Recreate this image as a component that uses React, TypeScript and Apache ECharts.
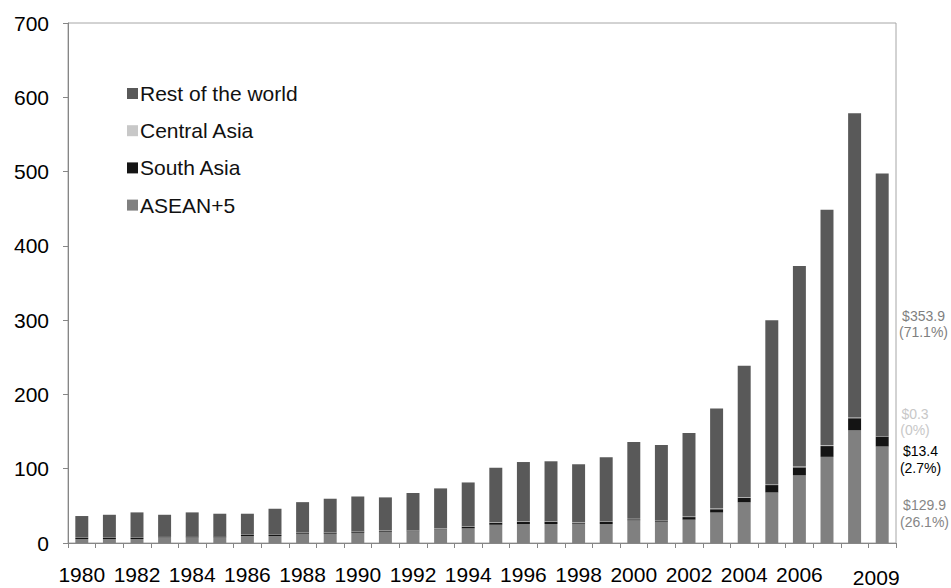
import React, { useEffect, useRef } from "react";
import * as echarts from "echarts";

const years = [
  "1980","1981","1982","1983","1984","1985","1986","1987","1988","1989",
  "1990","1991","1992","1993","1994","1995","1996","1997","1998","1999",
  "2000","2001","2002","2003","2004","2005","2006","2007","2008","2009",
];
const shownYearLabels = [
  "1980","1982","1984","1986","1988","1990","1992","1994","1996","1998",
  "2000","2002","2004","2006","2009",
];
const asean = [
  5.4,5.4,5.4,7.6,7.6,7.6,9.4,9.4,12.5,12.5,
  13.9,15.2,15.7,18.4,19.7,24.6,25.5,25.5,26,25.5,
  30.5,28.7,31.4,41,54.7,68,91.4,116,152,129.9,
];
const southAsia = [
  1.5,1.5,1.5,1.5,1.5,1.5,1.5,1.5,1.5,1.5,
  1.5,1.5,1,1,2,3,3.5,3.5,1.5,3,
  1.5,1.8,3.5,4.5,6.5,10,10.5,14.5,16,13.4,
];
const centralAsia = [
  0.3,0.3,0.3,0.3,0.3,0.3,0.3,0.3,0.3,0.3,
  0.3,0.4,0.5,0.5,0.5,0.6,0.6,0.6,0.6,0.6,
  0.8,0.6,0.8,0.8,0.8,0.8,1,1,1,0.3,
];
const restOfWorld = [
  29.1,30.8,34.0,28.6,31.8,30.0,28.2,34.8,40.7,45.3,
  47.0,44.3,50.0,53.6,59.3,73.1,79.4,80.4,77.9,86.5,
  103.0,100.9,112.3,134.7,176.5,221.2,270.1,317.0,409.4,353.9,
];
const yTicks = { min: 0, max: 700, interval: 100 };

const annotations = [
  { text: "$353.9\n(71.1%)", color: "#7f7f7f", x: 923.5, y: 324 },
  { text: "$0.3\n(0%)", color: "#c8c8c8", x: 915, y: 422 },
  { text: "$13.4\n(2.7%)", color: "#000000", x: 920.5, y: 459.5 },
  { text: "$129.9\n(26.1%)", color: "#868686", x: 924.5, y: 513.5 },
];

const FONT = "'Liberation Sans', Arial, sans-serif";

export default function App() {
  const ref = useRef<HTMLDivElement>(null);
  useEffect(() => {
    if (!ref.current) return;
    const chart = echarts.init(ref.current, null, { renderer: "svg" });
    const barW = "47%";
    const option = {
      animation: false,
      textStyle: { fontFamily: FONT },
      grid: {
        left: 68,
        right: 55,
        top: 23,
        bottom: 44,
        containLabel: false,
        show: true,
        borderColor: "#a6a6a6",
        borderWidth: 1,
        backgroundColor: "transparent",
      },
      legend: {
        orient: "vertical",
        left: 122,
        top: 78,
        itemWidth: 11,
        itemHeight: 11,
        itemGap: 16.2,
        icon: "rect",
        data: ["Rest of the world", "Central Asia", "South Asia", "ASEAN+5"],
        textStyle: { fontSize: 21, color: "#111", fontFamily: FONT, padding: [0, 0, 0, -3] },
      },
      xAxis: {
        type: "category",
        data: years,
        boundaryGap: true,
        axisLine: { show: true, lineStyle: { color: "#868686", width: 1 } },
        axisTick: { show: true, interval: 0, alignWithLabel: false, length: 5, inside: false, lineStyle: { color: "#868686" } },
        axisLabel: {
          interval: 0,
          margin: 21,
          fontSize: 21,
          color: "#000",
          fontFamily: FONT,
          formatter: (v: string) => {
            if (!shownYearLabels.includes(v)) return "";
            if (v === "2009") return "{s|" + v + "}";
            return v;
          },
          rich: { s: { fontSize: 21, color: "#000", fontFamily: FONT, padding: [3, 12, 0, 0] } },
        },
        splitLine: { show: false },
      },
      yAxis: {
        type: "value",
        min: yTicks.min,
        max: yTicks.max,
        interval: yTicks.interval,
        axisLine: { show: true, lineStyle: { color: "#868686", width: 1 } },
        axisTick: { show: true, length: 5, inside: false, lineStyle: { color: "#868686" } },
        axisLabel: { margin: 19, fontSize: 21, color: "#000", fontFamily: FONT },
        splitLine: { show: false },
      },
      series: [
        { name: "ASEAN+5", type: "bar", stack: "t", barWidth: barW, data: asean, itemStyle: { color: "#808080" } },
        { name: "South Asia", type: "bar", stack: "t", barWidth: barW, data: southAsia, itemStyle: { color: "#141414" } },
        { name: "Central Asia", type: "bar", stack: "t", barWidth: barW, data: centralAsia, itemStyle: { color: "#c8c8c8" } },
        { name: "Rest of the world", type: "bar", stack: "t", barWidth: barW, data: restOfWorld, itemStyle: { color: "#595959" } },
      ],
      graphic: annotations.map((a) => ({
        type: "text",
        x: a.x,
        y: a.y,
        style: {
          text: a.text,
          fill: a.color,
          fontSize: 14,
          lineHeight: 16.5,
          fontFamily: FONT,
          textAlign: "center",
          textVerticalAlign: "middle",
        },
      })),
    };
    chart.setOption(option as any);
    return () => chart.dispose();
  }, []);
  return <div ref={ref} style={{ width: 951, height: 588, position: "absolute", left: 0, top: 0 }} />;
}
